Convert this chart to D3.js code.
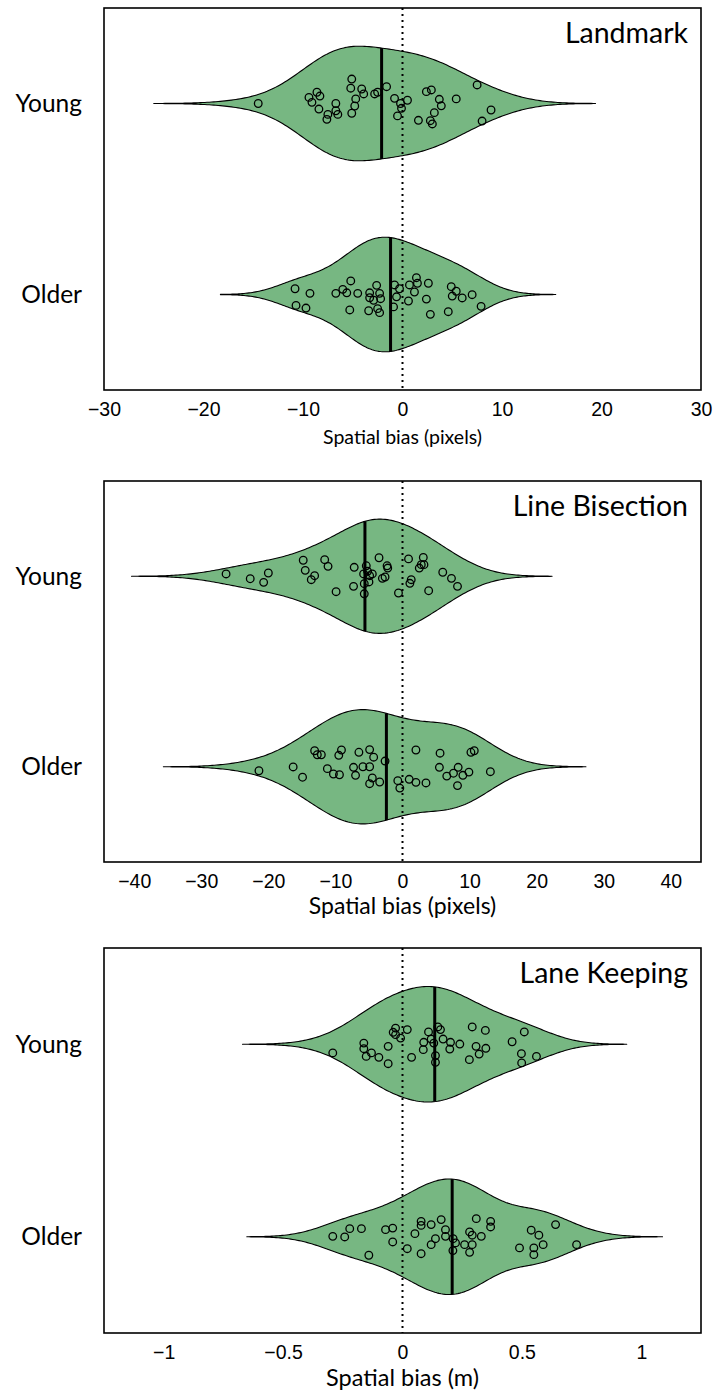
<!DOCTYPE html>
<html><head><meta charset="utf-8">
<script src="https://cdn.jsdelivr.net/npm/d3@7"></script>
<style>body{margin:0;background:#fff} svg{display:block}</style>
</head><body>
<script>
// ---------- data ----------
const groups = ["Young", "Older"];
const panelTitles = ["Landmark", "Line Bisection", "Lane Keeping"];
const axisTitles = ["Spatial bias (pixels)", "Spatial bias (pixels)", "Spatial bias (m)"];
const xDomains = [[-30, 30], [-44.5, 44.5], [-1.25, 1.25]];
const tickValues = [
  [-30, -20, -10, 0, 10, 20, 30],
  [-40, -30, -20, -10, 0, 10, 20, 30, 40],
  [-1, -0.5, 0, 0.5, 1]
];
const tickLabels = [
  ["−30", "−20", "−10", "0", "10", "20", "30"],
  ["−40", "−30", "−20", "−10", "0", "10", "20", "30", "40"],
  ["−1", "−0.5", "0", "0.5", "1"]
];

const landmarkYoung = [-14.5,-9.4,-8.6,-8.3,-9.1,-8.4,-7.5,-7.6,-6.7,-6.7,-6.5,-5.1,-5.2,-4.7,-4.8,-5.1,-4.1,-3.9,-2.8,-2.5,-1.6,-0.8,-0.2,-0.1,-0.5,0.5,2.4,2.9,3.7,3.9,3.2,1.6,2.8,3.0,5.4,7.5,8.9,8.0];
const landmarkYoungJitter = [0,-0.032,-0.059,-0.039,-0.006,0.029,0.057,0.083,0,0.038,0.057,-0.128,-0.080,-0.024,0.013,0.051,-0.076,-0.050,-0.050,-0.059,-0.088,-0.027,0,0.025,0.065,-0.017,-0.062,-0.071,-0.022,0.012,0.048,0.088,0.090,0.107,-0.024,-0.097,0.034,0.092];

const landmarkOlder = [-10.8,-9.3,-10.7,-9.7,-6.7,-6.0,-5.6,-5.2,-4.5,-5.3,-3.3,-2.6,-2.3,-3.3,-2.9,-2.2,-3.4,-2.5,-2.3,-0.8,-0.3,-0.6,-0.9,0.7,1.4,1.5,1.2,0.6,2.6,2.4,2.8,4.9,5.4,5.0,6.0,7.0,4.6,7.9];
const landmarkOlderJitter = [-0.030,-0.006,0.057,0.071,-0.006,-0.027,-0.009,-0.071,-0.006,0.081,-0.009,-0.048,-0.006,0.017,0.030,0.022,0.085,0.074,0.095,-0.050,-0.030,0.012,0.065,-0.050,-0.088,-0.059,-0.013,0.034,-0.059,0.024,0.104,-0.041,-0.017,0.008,0.018,0.001,0.090,0.062];

const bisectionYoung = [-26.3,-22.7,-20.7,-20.0,-14.8,-14.5,-13.1,-13.6,-11.6,-11.1,-9.9,-7.2,-7.3,-5.4,-5.8,-5.2,-4.5,-4.9,-5.7,-5.0,-5.7,-3.5,-2.3,-2.2,-3.0,-2.6,-0.6,0.9,3.1,2.8,2.5,3.2,1.3,1.1,3.9,6.0,7.3,8.2];
const bisectionYoungJitter = [-0.012,0.013,0.032,-0.017,-0.084,-0.031,-0.003,0.018,-0.087,-0.052,0.081,-0.047,0.053,-0.055,-0.012,-0.026,-0.012,-0.003,0.039,0.030,0.092,-0.097,-0.055,-0.043,0.011,0.004,0.088,-0.091,-0.099,-0.061,-0.043,-0.061,0.018,0.037,0.076,-0.021,0.011,0.053];

const bisectionOlder = [-21.4,-16.3,-14.9,-13.1,-12.7,-12.1,-11.2,-10.3,-9.4,-9.1,-9.5,-7.3,-7.0,-6.5,-5.9,-4.9,-4.9,-4.3,-4.5,-4.9,-3.4,-2.6,-0.7,-0.4,1.0,2.0,3.5,2.0,5.6,5.5,6.6,7.6,8.3,9.0,8.2,9.9,10.2,10.7,13.1];
const bisectionOlderJitter = [0.021,0.001,0.055,-0.084,-0.063,-0.063,0.010,0.038,0.042,-0.088,-0.060,0.003,0.045,-0.076,0,0,-0.090,-0.050,0.059,0.089,0.080,-0.030,0.073,0.112,0.066,0.082,0.085,-0.088,-0.071,0.003,0.049,0.034,0.003,0.045,0.099,0.028,-0.076,-0.084,0.026];

const laneYoung = [-0.292,-0.162,-0.162,-0.152,-0.130,-0.099,-0.060,-0.060,-0.029,-0.039,-0.029,-0.008,0.020,0.038,0.109,0.120,0.089,0.087,0.131,0.148,0.159,0.170,0.138,0.138,0.201,0.198,0.240,0.292,0.347,0.308,0.349,0.321,0.280,0.459,0.510,0.498,0.561,0.499];
const laneYoungJitter = [0.045,-0.006,0.023,0.063,0.045,0.068,0.011,0.101,-0.084,-0.062,-0.050,-0.032,-0.076,0.068,-0.064,-0.027,-0.010,0.028,-0.006,-0.090,-0.076,-0.027,0.059,0.094,-0.010,0.025,-0.001,-0.090,-0.072,0.011,0.021,0.051,0.080,-0.013,-0.064,0.049,0.063,0.097];

const laneOlder = [-0.292,-0.242,-0.221,-0.172,-0.141,-0.071,-0.041,-0.041,0.020,0.052,0.078,0.078,0.120,0.162,0.180,0.180,0.138,0.120,0.078,0.212,0.222,0.211,0.260,0.292,0.281,0.281,0.292,0.330,0.309,0.369,0.369,0.490,0.539,0.571,0.589,0.550,0.550,0.641,0.729];
const laneOlderJitter = [-0.002,0.001,-0.042,-0.042,0.096,-0.037,-0.045,0.027,0.062,-0.016,-0.080,-0.059,-0.063,-0.089,-0.037,-0.002,0.010,0.041,0.088,0.010,0.032,0.072,0.041,0.041,0.081,-0.025,-0.008,-0.002,-0.094,-0.080,-0.051,0.058,-0.034,-0.008,0.041,0.058,0.093,-0.063,0.041];

const medians = [[-2.1, -1.2], [-5.6, -2.4], [0.135, 0.208]];
const bandwidths = [[3.5, 2.5], [4.7, 4.75], [0.126, 0.12]];

const panelData = [
  [[landmarkYoung, landmarkYoungJitter], [landmarkOlder, landmarkOlderJitter]],
  [[bisectionYoung, bisectionYoungJitter], [bisectionOlder, bisectionOlderJitter]],
  [[laneYoung, laneYoungJitter], [laneOlder, laneOlderJitter]]
];

// ---------- layout ----------
const W = 716, H = 1391;
const left = 104, right = 701;
const tops = [8, 481, 948];
const bottoms = [390, 862, 1333];
const labelBaselines = [444, 914, 1386];
const labelSizes = [19.5, 23, 23.5];
const fill = "#77b782";
const textFont = "Lato, 'Open Sans', sans-serif";
const tickFont = "'Liberation Sans', Arial, sans-serif";
const halfWidth = 0.3;

const svg = d3.select("body").append("svg").attr("width", W).attr("height", H);

function kde(values, bw, n) {
  const lo = d3.min(values) - 3 * bw, hi = d3.max(values) + 3 * bw;
  const pts = d3.range(n).map(i => lo + (hi - lo) * i / (n - 1));
  return pts.map(v => ({v, d: d3.sum(values, s => Math.exp(-0.5 * ((v - s) / bw) ** 2))}));
}

panelData.forEach((groupsData, pi) => {
  const x = d3.scaleLinear().domain(xDomains[pi]).range([left, right]);
  const y = d3.scaleLinear().domain([0.5, 2.5]).range([tops[pi], bottoms[pi]]);
  const g = svg.append("g");

  groupsData.forEach(([vals, jit], gi) => {
    const cat = gi + 1;
    const dens = kde(vals, bandwidths[pi][gi], 200);
    const maxD = d3.max(dens, d => d.d);
    dens.forEach(d => d.w = d.d / maxD * halfWidth);
    const area = d3.area().x(d => x(d.v)).y0(d => y(cat - d.w)).y1(d => y(cat + d.w)).curve(d3.curveLinear);
    g.append("path").datum(dens).attr("d", area)
      .attr("fill", fill).attr("stroke", "#000").attr("stroke-width", 1.1).attr("stroke-linejoin", "round");
    // median line
    const m = medians[pi][gi];
    const j = d3.bisector(d => d.v).left(dens, m);
    const a = dens[Math.max(0, j - 1)], b = dens[j];
    const w = a.w + (b.w - a.w) * ((m - a.v) / (b.v - a.v || 1));
    g.append("line").attr("x1", x(m)).attr("x2", x(m))
      .attr("y1", y(cat - w)).attr("y2", y(cat + w)).attr("stroke", "#000").attr("stroke-width", 3);
    // data points
    g.selectAll(null).data(vals.map((v, k) => ({v, j: jit[k]}))).enter().append("circle")
      .attr("cx", d => x(d.v)).attr("cy", d => y(cat + d.j)).attr("r", 3.8)
      .attr("fill", "none").attr("stroke", "#000").attr("stroke-width", 1.3);
  });

  // zero reference line
  g.append("line").attr("x1", x(0)).attr("x2", x(0)).attr("y1", tops[pi]).attr("y2", bottoms[pi])
    .attr("stroke", "#000").attr("stroke-width", 2).attr("stroke-dasharray", "2,4");

  // frame
  g.append("rect").attr("x", left).attr("y", tops[pi]).attr("width", right - left).attr("height", bottoms[pi] - tops[pi])
    .attr("fill", "none").attr("stroke", "#000").attr("stroke-width", 1.6);

  // x axis
  const axis = d3.axisBottom(x).tickValues(tickValues[pi]).tickSize(0).tickPadding(12)
    .tickFormat((d, i) => tickLabels[pi][i]);
  const ag = g.append("g").attr("transform", `translate(0,${bottoms[pi]})`).call(axis);
  ag.select(".domain").remove();
  ag.selectAll("text").attr("font-family", tickFont).attr("font-size", 19.5).attr("fill", "#000");

  // axis title
  g.append("text").attr("x", (left + right) / 2).attr("y", labelBaselines[pi]).attr("text-anchor", "middle")
    .attr("font-family", textFont).attr("font-size", labelSizes[pi]).text(axisTitles[pi]);

  // group labels
  groups.forEach((name, gi) => {
    g.append("text").attr("x", 82).attr("y", y(gi + 1)).attr("dy", "0.35em").attr("text-anchor", "end")
      .attr("font-family", textFont).attr("font-size", 24.5).text(name);
  });

  // panel title
  g.append("text").attr("x", 688).attr("y", tops[pi] + 35).attr("text-anchor", "end")
    .attr("font-family", textFont).attr("font-size", 28.5).text(panelTitles[pi]);
});
</script>
</body></html>
